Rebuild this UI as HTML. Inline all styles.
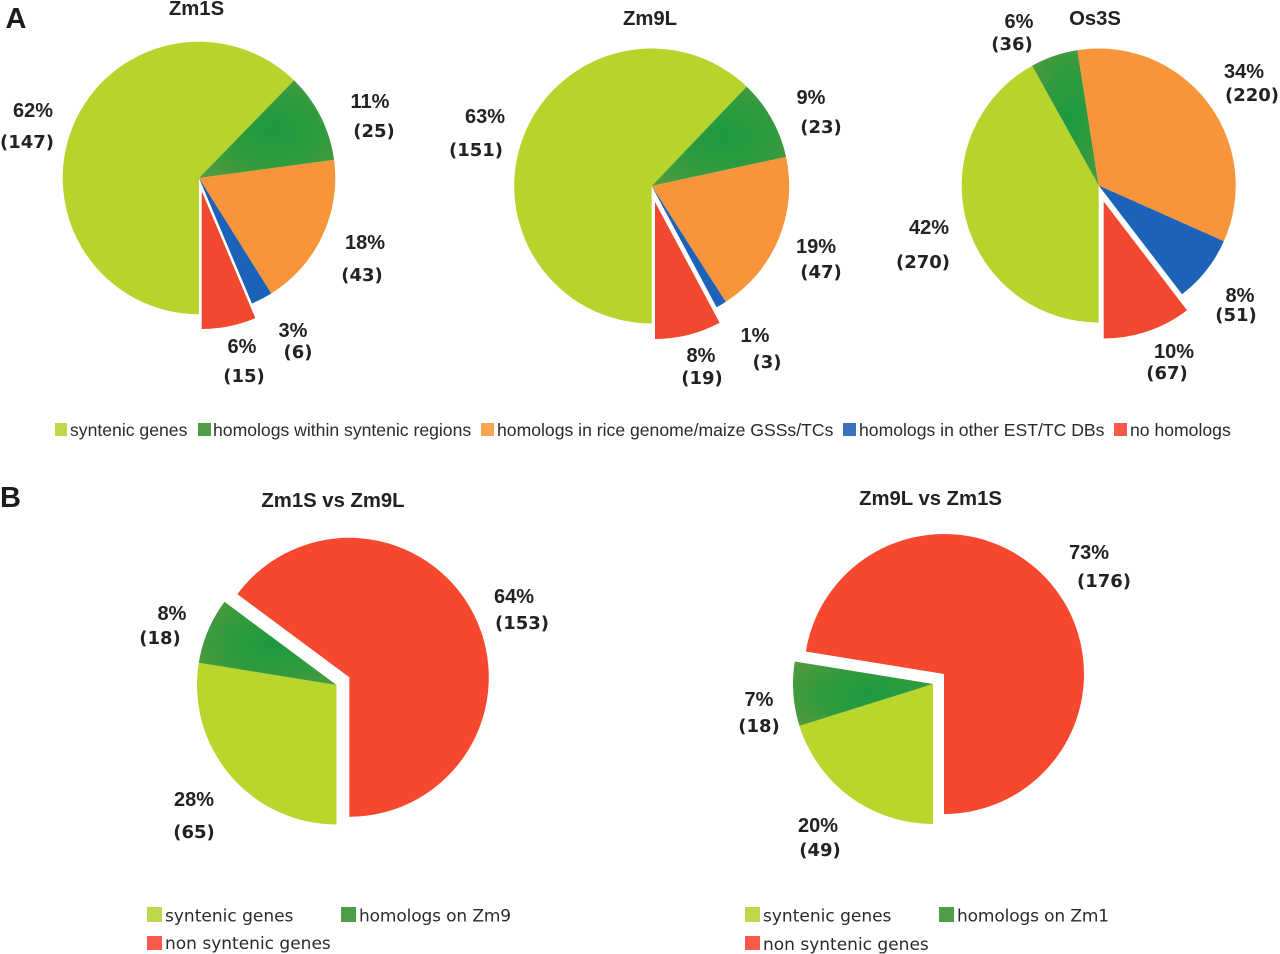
<!DOCTYPE html>
<html lang="en">
<head>
<meta charset="utf-8">
<title>Pie charts of gene homology</title>
<style>
html,body{margin:0;padding:0;background:#fff;width:1280px;height:954px;overflow:hidden}
svg{display:block;filter:blur(.3px)}
.panel{font:bold 29px "Liberation Sans",sans-serif;fill:#1c1c1c}
.title{font:bold 20.3px "Liberation Sans",sans-serif;fill:#222;text-anchor:middle}
.pct{font:bold 20px "Liberation Sans",sans-serif;fill:#222;text-anchor:middle}
.cnt{font:bold 18px "DejaVu Sans",sans-serif;fill:#222;text-anchor:middle}
.lgA{font:17.6px "Liberation Sans",sans-serif;fill:#2a2a2a}
.lgB{font:17px "DejaVu Sans",sans-serif;fill:#2a2a2a}
.tight{letter-spacing:-.13px}
</style>
</head>
<body>
<svg id="fig" xmlns="http://www.w3.org/2000/svg" width="1280" height="954" viewBox="0 0 1280 954">
  <defs>
    <radialGradient id="darkGreenGrad" cx="0.55" cy="0.5" r="0.7">
      <stop offset="0" stop-color="#1c9a3f"/>
      <stop offset="0.5" stop-color="#309a3e"/>
      <stop offset="1" stop-color="#529b3c"/>
    </radialGradient>
  </defs>
  <text class="panel" x="5.5" y="28">A</text>
  <text class="panel" x="0" y="507">B</text>

  <text class="title" x="196.5" y="15">Zm1S</text>
  <text class="title" x="650" y="25">Zm9L</text>
  <text class="title" x="1095" y="25">Os3S</text>
  <text class="title" x="333" y="507">Zm1S vs Zm9L</text>
  <text class="title" x="930.5" y="505">Zm9L vs Zm1S</text>

  <g>
    <rect x="55" y="423" width="12" height="13" fill="#bcd84a"/>
    <text class="lgA" x="70" y="436">syntenic genes</text>
    <rect x="198" y="423" width="13" height="13" fill="#4f9d48"/>
    <text class="lgA" x="213" y="436">homologs within syntenic regions</text>
    <rect x="481" y="423" width="13" height="13" fill="#f9a552"/>
    <text class="lgA" x="497" y="436">homologs in rice genome/maize GSSs/TCs</text>
    <rect x="843" y="423" width="13" height="13" fill="#3a72bd"/>
    <text class="lgA" x="859" y="436">homologs in other EST/TC DBs</text>
    <rect x="1114" y="423" width="13" height="13" fill="#f9594c"/>
    <text class="lgA" x="1130" y="436">no homologs</text>
  </g>

  <g>
    <rect x="147" y="907" width="15" height="15" fill="#bcd84a"/>
    <text class="lgB" x="165" y="921.5">syntenic genes</text>
    <rect x="341" y="907" width="15" height="15" fill="#4f9d48"/>
    <text class="lgB tight" x="359" y="921.5">homologs on Zm9</text>
    <rect x="147" y="936" width="15" height="14" fill="#f9594c"/>
    <text class="lgB" x="165" y="949">non syntenic genes</text>
  </g>

  <g>
    <rect x="745" y="907" width="15" height="15" fill="#bcd84a"/>
    <text class="lgB" x="763" y="921.5">syntenic genes</text>
    <rect x="939" y="907" width="15" height="15" fill="#4f9d48"/>
    <text class="lgB tight" x="957" y="921.5">homologs on Zm1</text>
    <rect x="745" y="936" width="15" height="14" fill="#f9594c"/>
    <text class="lgB" x="763" y="950">non syntenic genes</text>
  </g>
</svg>

<script>
// ---- chart data ----
const categoriesA = ['syntenic genes', 'homologs within syntenic regions', 'homologs in rice genome/maize GSSs/TCs', 'homologs in other EST/TC DBs', 'no homologs'];
const categoriesB = ['syntenic genes', 'homologs', 'non syntenic genes'];

const zm1sCounts = [147, 25, 43, 6, 15];
const zm9lCounts = [151, 23, 47, 3, 19];
const os3sCounts = [270, 36, 220, 51, 67];
const zm1sVsZm9lCounts = [65, 18, 153];
const zm9lVsZm1sCounts = [49, 18, 176];

const zm1sPercents = ['62%', '11%', '18%', '3%', '6%'];
const zm9lPercents = ['63%', '9%', '19%', '1%', '8%'];
const os3sPercents = ['42%', '6%', '34%', '8%', '10%'];
const zm1sVsZm9lPercents = ['28%', '8%', '64%'];
const zm9lVsZm1sPercents = ['20%', '7%', '73%'];

// ---- layout (not data) ----
const colorsA = ['#b6d42c', 'url(#darkGreenGrad)', '#f8953a', '#1c62b8', '#f2482f'];
const colorsB = ['#b8d62c', 'url(#darkGreenGrad)', '#f5482f'];

const pies = [
  {name: 'zm1s', cats: categoriesA, colors: colorsA, counts: zm1sCounts, percents: zm1sPercents,
   cx: 199, cy: 178, r: 136.3, explode: 4, dx: 2.7, dy: 13, exR: 138,
   pctPos: [[33,117],[370,108],[365,249],[293,337],[242,353]],
   cntPos: [[27,148],[374,137],[362,281],[298,358],[244,382]]},
  {name: 'zm9l', cats: categoriesA, colors: colorsA, counts: zm9lCounts, percents: zm9lPercents,
   cx: 651.7, cy: 186, r: 137.5, explode: 4, dx: 3.3, dy: 16, exR: 137,
   pctPos: [[485,123],[811,104],[816,253],[755,342],[701,362]],
   cntPos: [[476,156],[821,133],[821,278],[767,368],[702,384]]},
  {name: 'os3s', cats: categoriesA, colors: colorsA, counts: os3sCounts, percents: os3sPercents,
   cx: 1098.7, cy: 185.5, r: 137, explode: 4, dx: 5, dy: 16, exR: 137,
   pctPos: [[929,234],[1019,28],[1244,78],[1240,302],[1174,358]],
   cntPos: [[923,268],[1012,50],[1252,101],[1236,321],[1167,379]]},
  {name: 'zm1s-vs-zm9l', cats: categoriesB, colors: colorsB, counts: zm1sVsZm9lCounts, percents: zm1sVsZm9lPercents,
   cx: 336.5, cy: 685, r: 139.5, explode: 2, dx: 12.8, dy: -7.7, exR: 139.5,
   pctPos: [[194,806],[172,620],[514,603]],
   cntPos: [[194,838],[160,644],[522,629]]},
  {name: 'zm9l-vs-zm1s', cats: categoriesB, colors: colorsB, counts: zm9lVsZm1sCounts, percents: zm9lVsZm1sPercents,
   cx: 933, cy: 684, r: 140, explode: 2, dx: 11, dy: -10, exR: 140,
   pctPos: [[818,832],[759,706],[1089,559]],
   cntPos: [[820,856],[759,732],[1104,587]]}
];

const NS = 'http://www.w3.org/2000/svg';
const fig = document.getElementById('fig');

function angleScale(total) {
  return function (v) { return 180 + v / total * 360; };
}
function polar(cx, cy, r, deg) {
  const t = deg * Math.PI / 180;
  return [cx + r * Math.sin(t), cy - r * Math.cos(t)];
}
function slug(s) {
  return s.toLowerCase().replace(/[^a-z0-9]+/g, '-').replace(/-$/, '');
}
function addText(parent, cls, pos, str) {
  const t = document.createElementNS(NS, 'text');
  t.setAttribute('class', cls);
  t.setAttribute('x', pos[0]);
  t.setAttribute('y', pos[1]);
  t.textContent = str;
  parent.appendChild(t);
  return t;
}

pies.forEach(function (p) {
  const g = document.createElementNS(NS, 'g');
  
  
  fig.appendChild(g);

  const total = p.counts.reduce(function (a, b) { return a + b; }, 0);
  const scale = angleScale(total);
  let cum = 0;
  p.counts.forEach(function (v, i) {
    const a0 = scale(cum);
    const a1 = scale(cum + v);
    cum += v;
    const isEx = i === p.explode;
    const cx = p.cx + (isEx ? p.dx : 0);
    const cy = p.cy + (isEx ? p.dy : 0);
    const r = isEx ? p.exR : p.r;
    const s = polar(cx, cy, r, a0);
    const e = polar(cx, cy, r, a1);
    const large = a1 - a0 > 180 ? 1 : 0;
    const path = document.createElementNS(NS, 'path');
    path.setAttribute('d', 'M' + cx + ' ' + cy + 'L' + s[0] + ' ' + s[1] + 'A' + r + ' ' + r + ' 0 ' + large + ' 1 ' + e[0] + ' ' + e[1] + 'Z');
    path.setAttribute('fill', p.colors[i]);
    
    
    g.appendChild(path);

    const pctEl = addText(g, 'pct', p.pctPos[i], p.percents[i]);
    
    

    const cntEl = addText(g, 'cnt', p.cntPos[i], '(' + v + ')');
    
    
  });
});
</script>
</body>
</html>
